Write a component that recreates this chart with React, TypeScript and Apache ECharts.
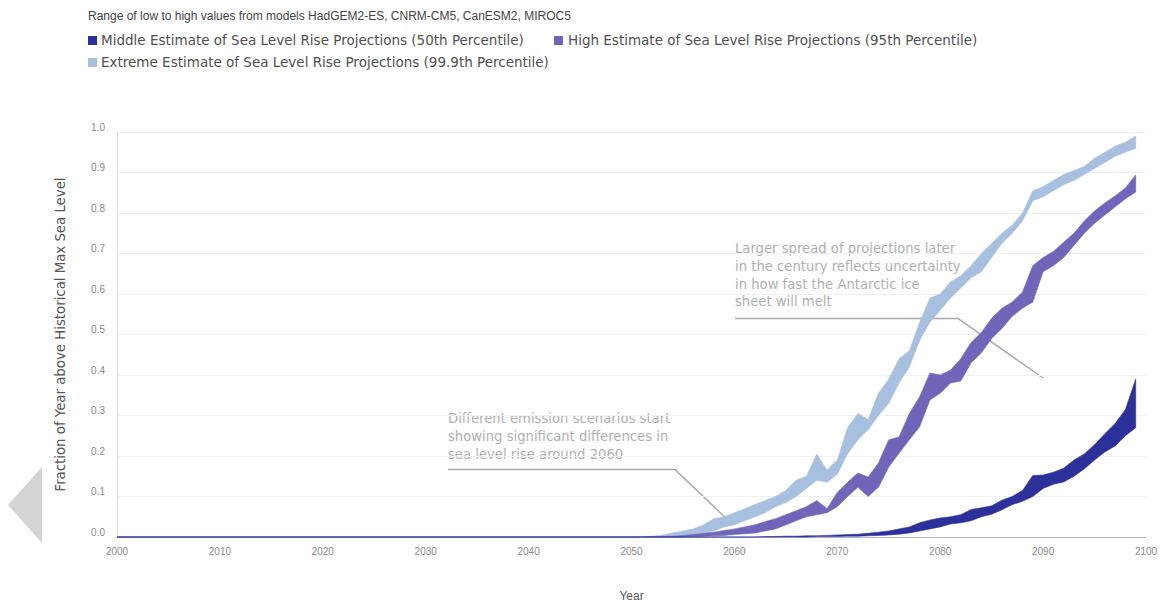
import React, { useEffect, useRef } from "react";
import * as echarts from "echarts";

const years = [
  2000, 2050, 2051, 2052, 2053, 2054, 2055, 2056, 2057, 2058, 2059,
  2060, 2061, 2062, 2063, 2064, 2065, 2066, 2067, 2068, 2069,
  2070, 2071, 2072, 2073, 2074, 2075, 2076, 2077, 2078, 2079,
  2080, 2081, 2082, 2083, 2084, 2085, 2086, 2087, 2088, 2089,
  2090, 2091, 2092, 2093, 2094, 2095, 2096, 2097, 2098, 2099,
];

const extremeLow = [
  0, 0, 0, 0, 0, 0.002, 0.004, 0.006, 0.01, 0.015, 0.025,
  0.03, 0.04, 0.05, 0.06, 0.075, 0.085, 0.1, 0.12, 0.14, 0.135,
  0.155, 0.205, 0.24, 0.265, 0.3, 0.33, 0.38, 0.42, 0.485, 0.53,
  0.56, 0.59, 0.615, 0.64, 0.655, 0.69, 0.725, 0.75, 0.78, 0.83,
  0.84, 0.855, 0.87, 0.88, 0.895, 0.91, 0.925, 0.94, 0.95, 0.96,
];
const extremeHigh = [
  0, 0, 0.001, 0.002, 0.005, 0.01, 0.015, 0.02, 0.03, 0.045, 0.05,
  0.06, 0.07, 0.08, 0.09, 0.1, 0.115, 0.14, 0.15, 0.205, 0.165,
  0.19, 0.27, 0.305, 0.29, 0.355, 0.39, 0.44, 0.46, 0.53, 0.59,
  0.6, 0.63, 0.645, 0.67, 0.7, 0.725, 0.75, 0.77, 0.8, 0.855,
  0.865, 0.88, 0.895, 0.905, 0.915, 0.935, 0.95, 0.965, 0.975, 0.99,
];
const highLow = [
  0, 0, 0, 0, 0, 0, 0, 0.001, 0.002, 0.003, 0.004,
  0.006, 0.008, 0.01, 0.015, 0.02, 0.03, 0.04, 0.05, 0.055, 0.06,
  0.075, 0.1, 0.123, 0.1, 0.123, 0.173, 0.207, 0.24, 0.272, 0.338,
  0.355, 0.38, 0.385, 0.43, 0.455, 0.49, 0.515, 0.545, 0.565, 0.58,
  0.655, 0.67, 0.69, 0.72, 0.75, 0.775, 0.795, 0.815, 0.835, 0.852,
];
const highHigh = [
  0, 0, 0, 0.001, 0.001, 0.002, 0.004, 0.006, 0.009, 0.012, 0.016,
  0.02, 0.025, 0.03, 0.038, 0.045, 0.055, 0.065, 0.075, 0.09, 0.07,
  0.11, 0.135, 0.158, 0.148, 0.183, 0.24, 0.247, 0.305, 0.346, 0.405,
  0.4, 0.412, 0.44, 0.48, 0.505, 0.54, 0.565, 0.58, 0.605, 0.67,
  0.69, 0.705, 0.728, 0.75, 0.78, 0.805, 0.825, 0.842, 0.862, 0.894,
];
const middleLow = [
  0, 0, 0, 0, 0, 0, 0, 0, 0, 0, 0,
  0, 0, 0, 0, 0, 0, 0, 0, 0.001, 0.001,
  0.001, 0.002, 0.002, 0.003, 0.004, 0.005, 0.007, 0.01, 0.015, 0.02,
  0.025, 0.032, 0.035, 0.04, 0.05, 0.056, 0.067, 0.08, 0.088, 0.1,
  0.12, 0.13, 0.136, 0.15, 0.168, 0.19, 0.21, 0.225, 0.25, 0.27,
];
const middleHigh = [
  0, 0, 0, 0, 0, 0, 0, 0, 0, 0, 0,
  0, 0, 0, 0.001, 0.001, 0.002, 0.002, 0.003, 0.003, 0.004,
  0.005, 0.006, 0.007, 0.009, 0.012, 0.015, 0.02, 0.025, 0.035, 0.042,
  0.047, 0.05, 0.055, 0.068, 0.072, 0.077, 0.091, 0.1, 0.115, 0.152,
  0.153, 0.16, 0.17, 0.19, 0.205, 0.228, 0.255, 0.28, 0.315, 0.39,
];

const bandNames = [
  "Extreme Estimate of Sea Level Rise Projections (99.9th Percentile)",
  "High Estimate of Sea Level Rise Projections (95th Percentile)",
  "Middle Estimate of Sea Level Rise Projections (50th Percentile)",
];
const bandColors = ["#a8c0df", "#6f65b9", "#2c309b"];
const titleText = "Range of low to high values from models HadGEM2-ES, CNRM-CM5, CanESM2, MIROC5";
const note1 = "Different emission scenarios start\nshowing significant differences in\nsea level rise around 2060";
const note2 = "Larger spread of projections later\nin the century reflects uncertainty\nin how fast the Antarctic ice\nsheet will melt";

const FONT = "Arial, 'Liberation Sans', sans-serif";
const WIDE = "'DejaVu Sans', sans-serif";

function bandSeries(name: string, color: string, low: number[], high: number[]) {
  return {
    name,
    type: "custom",
    silent: true,
    data: years.map((y, i) => [y, low[i], high[i]]),
    encode: { x: 0, y: [1, 2] },
    renderItem: (params: any, api: any) => {
      if (params.dataIndex !== 0) return null;
      const top = years.map((y, i) => api.coord([y, high[i]]));
      const bottom = years.map((y, i) => api.coord([y, low[i]])).reverse();
      return {
        type: "polygon",
        shape: { points: [...top, ...bottom] },
        style: { fill: color, stroke: color, lineWidth: 0.6 },
      };
    },
  };
}

export default function App() {
  const ref = useRef<HTMLDivElement>(null);
  useEffect(() => {
    if (!ref.current) return;
    const chart = echarts.init(ref.current, undefined, { renderer: "svg" });
    const legendText = { fontSize: 13.5, fill: "#505050", fontFamily: WIDE };
    const noteText = { fontSize: 13.2, fill: "#b0b0b0", fontFamily: WIDE, lineHeight: 17.7 };
    chart.setOption({
      animation: false,
      backgroundColor: "#ffffff",
      grid: {
        left: 117,
        right: 22,
        top: 132,
        bottom: 66,
        containLabel: false,
        outerBoundsMode: "none",
      },
      xAxis: {
        type: "value",
        min: 2000,
        max: 2100,
        interval: 10,
        name: "Year",
        nameLocation: "middle",
        nameGap: 53,
        nameTextStyle: { fontSize: 12, color: "#555", fontFamily: FONT },
        axisLine: { lineStyle: { color: "#b4b4d2", width: 1 } },
        axisTick: { show: false },
        axisLabel: {
          color: "#8a8a8a",
          fontSize: 10,
          fontFamily: FONT,
          margin: 9,
          formatter: (v: number) => String(v),
        },
        splitLine: { show: false },
      },
      yAxis: {
        type: "value",
        min: 0,
        max: 1,
        interval: 0.1,
        name: "Fraction of Year above Historical Max Sea Level",
        nameLocation: "middle",
        nameGap: 50,
        nameTextStyle: { fontSize: 13.3, color: "#555", fontFamily: WIDE },
        axisLine: { show: true, lineStyle: { color: "#dcdce6" } },
        axisTick: { show: false },
        axisLabel: {
          color: "#8a8a8a",
          fontSize: 10,
          fontFamily: FONT,
          margin: 12,
          verticalAlign: "bottom",
          formatter: (v: number) => v.toFixed(1),
        },
        splitLine: { lineStyle: { color: "#f0f0f0" } },
      },
      series: [
        bandSeries(bandNames[0], bandColors[0], extremeLow, extremeHigh),
        bandSeries(bandNames[1], bandColors[1], highLow, highHigh),
        bandSeries(bandNames[2], bandColors[2], middleLow, middleHigh),
      ],
      graphic: [
        { type: "text", left: 88, top: 10, style: { text: titleText, fontSize: 12, fill: "#444", fontFamily: FONT } },
        { type: "rect", shape: { x: 88, y: 36, width: 9, height: 9 }, style: { fill: bandColors[2] } },
        { type: "text", left: 101, top: 33, style: { text: bandNames[2], ...legendText } },
        { type: "rect", shape: { x: 554, y: 36, width: 9, height: 9 }, style: { fill: bandColors[1] } },
        { type: "text", left: 568, top: 33, style: { text: bandNames[1], ...legendText } },
        { type: "rect", shape: { x: 88, y: 58, width: 9, height: 9 }, style: { fill: bandColors[0] } },
        { type: "text", left: 101, top: 55, style: { text: bandNames[0], ...legendText } },
        { type: "text", left: 448, top: 410, style: { text: note1, ...noteText } },
        {
          type: "polyline",
          shape: { points: [[448, 469.5], [675, 469.5], [731, 523]] },
          style: { stroke: "#a9a9a9", lineWidth: 1.5, fill: null },
        },
        { type: "text", left: 735, top: 240, style: { text: note2, ...noteText } },
        {
          type: "polyline",
          shape: { points: [[735, 318.5], [958, 318.5], [1043, 378]] },
          style: { stroke: "#a9a9a9", lineWidth: 1.5, fill: null },
        },
        {
          type: "polygon",
          shape: { points: [[42, 467], [42, 543], [8, 505]] },
          style: { fill: "#d4d4d4" },
        },
      ],
    });
    return () => chart.dispose();
  }, []);
  return (
    <div
      ref={ref}
      style={{ position: "fixed", left: 0, top: 0, width: 1168, height: 603, background: "#fff" }}
    />
  );
}
